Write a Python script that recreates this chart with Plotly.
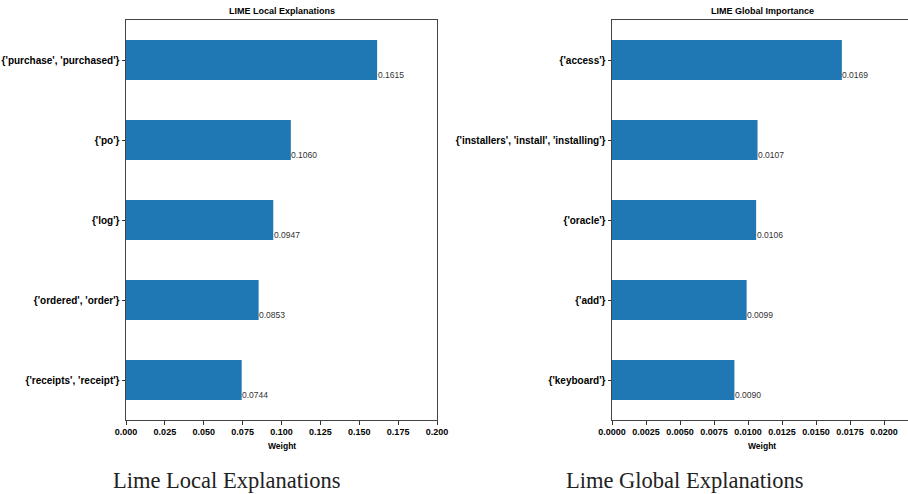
import plotly.graph_objects as go

# LIME weights for the local explanation (top feature groups)
local_features = ["{'purchase', 'purchased'}", "{'po'}", "{'log'}",
                  "{'ordered', 'order'}", "{'receipts', 'receipt'}"]
local_weights = [0.1615, 0.1060, 0.0947, 0.0853, 0.0744]

# LIME aggregated global importance
global_features = ["{'access'}", "{'installers', 'install', 'installing'}",
                   "{'oracle'}", "{'add'}", "{'keyboard'}"]
global_weights = [0.0169, 0.0107, 0.0106, 0.0099, 0.0090]

local_ticks = [0.0, 0.025, 0.05, 0.075, 0.1, 0.125, 0.15, 0.175, 0.2]
local_ticktext = ["0.000", "0.025", "0.050", "0.075", "0.100",
                  "0.125", "0.150", "0.175", "0.200"]
global_ticks = [0.0, 0.0025, 0.005, 0.0075, 0.01, 0.0125, 0.015, 0.0175, 0.02]
global_ticktext = ["0.0000", "0.0025", "0.0050", "0.0075", "0.0100",
                   "0.0125", "0.0150", "0.0175", "0.0200"]

W, H = 908, 494
BLUE = "#1f77b4"
SANS = "Liberation Sans, Arial, sans-serif"
SERIF = "Liberation Serif, DejaVu Serif, serif"


def py(px):
    """Convert a pixel row (from the top) into paper coordinates."""
    return 1 - px / H


def px_x(px):
    return px / W


fig = go.Figure()

fig.add_trace(go.Bar(x=local_weights, y=local_features, orientation="h",
                     width=0.5, marker=dict(color=BLUE, line=dict(width=0)),
                     xaxis="x", yaxis="y", hoverinfo="x+y"))
fig.add_trace(go.Bar(x=global_weights, y=global_features, orientation="h",
                     width=0.5, marker=dict(color=BLUE, line=dict(width=0)),
                     xaxis="x2", yaxis="y2", hoverinfo="x+y"))

top, bottom = 20, 420
ydom = [py(bottom), py(top)]
l_left, l_right = 126, 437
r_left = 612

axis_common = dict(showgrid=False, zeroline=False, ticks="outside", ticklen=3.5,
                   tickwidth=1, tickcolor="#333", linecolor="#444", linewidth=1,
                   showline=True, automargin=False)
tickfont_x = dict(family=SANS, size=9, color="#000", weight="bold")
tickfont_y = dict(family=SANS, size=10, color="#000", weight="bold")

fig.update_layout(
    width=W, height=H,
    margin=dict(l=0, r=0, t=0, b=0),
    paper_bgcolor="white", plot_bgcolor="white",
    showlegend=False,
    xaxis=dict(domain=[px_x(l_left), px_x(l_right)], range=[0, 0.2],
               tickvals=local_ticks, ticktext=local_ticktext, tickangle=0,
               tickfont=tickfont_x, anchor="y", mirror=True, **axis_common),
    yaxis=dict(domain=ydom, range=[4.5, -0.5], type="category",
               categoryorder="array", categoryarray=local_features,
               tickfont=tickfont_y, anchor="x", mirror=True, **axis_common),
    xaxis2=dict(domain=[px_x(r_left), 1.0],
                range=[0, (W - r_left) / 34 * 0.0025],
                tickvals=global_ticks, ticktext=global_ticktext, tickangle=0,
                tickfont=tickfont_x, anchor="y2", mirror=True, **axis_common),
    yaxis2=dict(domain=ydom, range=[4.5, -0.5], type="category",
                categoryorder="array", categoryarray=global_features,
                tickfont=tickfont_y, anchor="x2", mirror=False, **axis_common),
)

annotations = []

# value labels sitting at the bottom-right corner of each bar
for feats, vals, xr, yr in [(local_features, local_weights, "x", "y"),
                            (global_features, global_weights, "x2", "y2")]:
    for f, v in zip(feats, vals):
        annotations.append(dict(x=v, y=f, xref=xr, yref=yr, text=f"{v:.4f}",
                                showarrow=False, xanchor="left", yanchor="middle",
                                xshift=-1.5, yshift=-15,
                                font=dict(family=SANS, size=8.5, color="#333")))

# panel titles
for text, cx in [("LIME Local Explanations", (l_left + l_right) / 2),
                 ("LIME Global Importance", 762)]:
    annotations.append(dict(x=px_x(cx), y=py(11), xref="paper", yref="paper",
                            text=text, showarrow=False, xanchor="center",
                            yanchor="middle",
                            font=dict(family=SANS, size=9, color="#000",
                                      weight="bold")))

# x axis titles
for cx in [(l_left + l_right) / 2, 762]:
    annotations.append(dict(x=px_x(cx), y=py(446), xref="paper", yref="paper",
                            text="Weight", showarrow=False, xanchor="center",
                            yanchor="middle",
                            font=dict(family=SANS, size=8.5, color="#000",
                                      weight="bold")))

# captions under each panel
for text, cx in [("Lime Local Explanations", 226.5),
                 ("Lime Global Explanations", 684)]:
    annotations.append(dict(x=px_x(cx), y=py(480), xref="paper", yref="paper",
                            text=text, showarrow=False, xanchor="center",
                            yanchor="middle",
                            font=dict(family=SERIF, size=22.5, color="#222")))

fig.update_layout(annotations=annotations)

fig.write_html("out.html")
